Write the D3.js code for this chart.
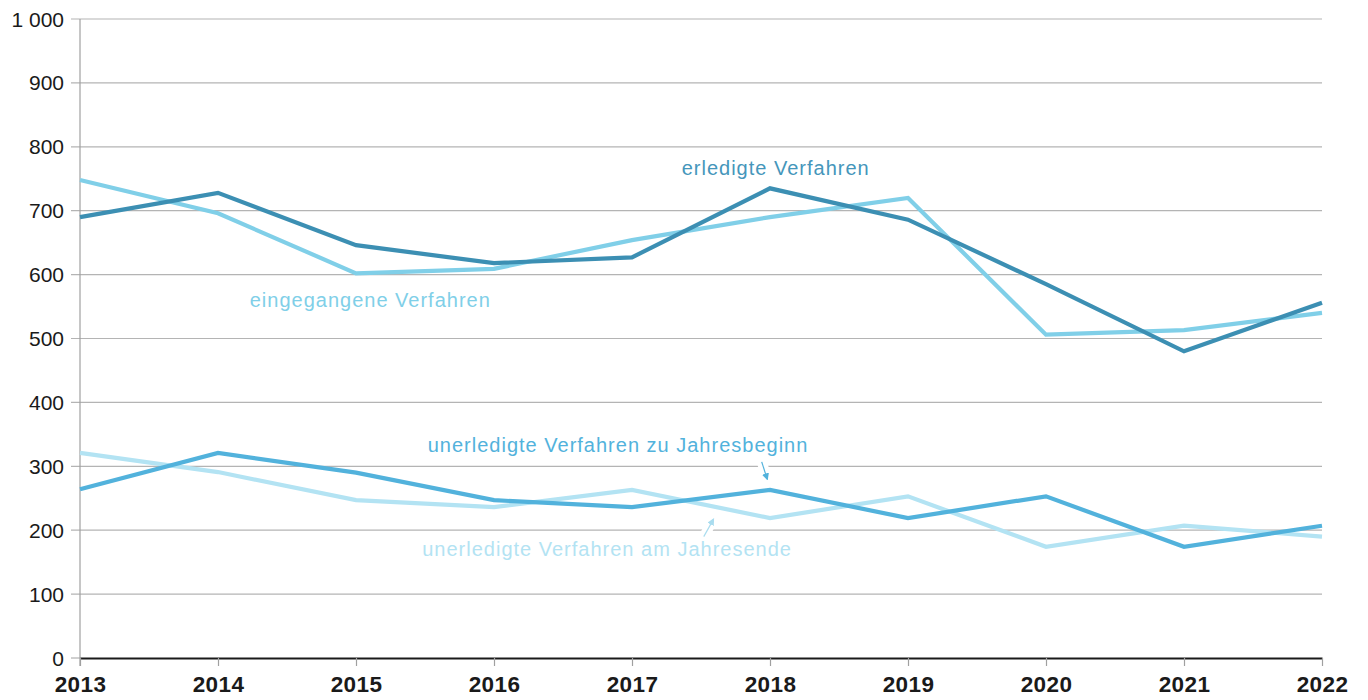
<!DOCTYPE html>
<html>
<head>
<meta charset="utf-8">
<script src="https://cdn.jsdelivr.net/npm/d3@7"></script>
<style>
  body { margin: 0; background: #fff; }
  svg { display: block; font-family: "Liberation Sans", Arial, Helvetica, sans-serif; }
</style>
</head>
<body>
<div id="chart"></div>
<script>
// chart values
const years = [2013, 2014, 2015, 2016, 2017, 2018, 2019, 2020, 2021, 2022]
const erledigt = [690, 728, 646, 618, 627, 735, 686, 585, 480, 556]
const eingegangen = [748, 696, 602, 609, 654, 690, 720, 506, 513, 540]
const offenBeginn = [264, 321, 290, 247, 236, 263, 219, 253, 174, 207]
const offenEnde = [321, 291, 247, 236, 263, 219, 253, 174, 207, 190]
const yTicks = [0, 100, 200, 300, 400, 500, 600, 700, 800, 900, 1000]

const width = 1368
const height = 700
const margin = {top: 19, right: 46, bottom: 42, left: 80}

const svg = d3.select('#chart')
  .append('svg')
    .attr('width', width)
    .attr('height', height)

const x = d3.scaleLinear()
  .domain([2013, 2022])
  .range([margin.left, width - margin.right])

const y = d3.scaleLinear()
  .domain([0, 1000])
  .range([height - margin.bottom, margin.top])

// horizontal grid
svg.append('g')
  .selectAll('line')
  .data(yTicks.filter(d => d > 0))
  .enter()
  .append('line')
    .attr('x1', margin.left - 9)
    .attr('x2', x(2022))
    .attr('y1', d => y(d))
    .attr('y2', d => y(d))
    .attr('stroke', '#b4b4b4')
    .attr('stroke-width', 1.2)

// y axis line + labels
svg.append('line')
  .attr('x1', margin.left).attr('x2', margin.left)
  .attr('y1', y(1000)).attr('y2', y(0) + 8)
  .attr('stroke', '#a0a0a0')
  .attr('stroke-width', 1.2)

svg.append('line')
  .attr('x1', margin.left - 9).attr('x2', margin.left)
  .attr('y1', y(0)).attr('y2', y(0))
  .attr('stroke', '#a0a0a0')

svg.append('g')
  .selectAll('text')
  .data(yTicks)
  .enter()
  .append('text')
    .attr('x', 64)
    .attr('y', d => y(d))
    .attr('dy', '0.36em')
    .attr('text-anchor', 'end')
    .attr('font-size', 21)
    .attr('fill', '#1a1a1a')
    .text(d => d >= 1000 ? '1 000' : d)

// x axis
const xAxis = d3.axisBottom(x)
  .tickValues(years)
  .tickFormat(d3.format('d'))
  .tickSize(8)
  .tickSizeOuter(0)

const gx = svg.append('g')
  .attr('transform', `translate(0,${y(0)})`)
  .call(xAxis)

gx.select('.domain').attr('stroke', '#1a1a1a').attr('stroke-width', 2)
gx.selectAll('.tick line').attr('stroke', '#a0a0a0').attr('stroke-width', 1.2)
gx.selectAll('.tick text')
  .attr('font-size', 22.5)
  .attr('font-weight', 'bold')
  .attr('letter-spacing', 0.4)
  .attr('fill', '#1a1a1a')
  .attr('font-family', '"Liberation Sans", Arial, sans-serif')
  .attr('y', 18)
  .attr('dy', '0.71em')

// series
const series = [
  {name: 'offenEnde', values: offenEnde, color: '#b3e3f3'},
  {name: 'offenBeginn', values: offenBeginn, color: '#52b2dc'},
  {name: 'eingegangen', values: eingegangen, color: '#80cfe8'},
  {name: 'erledigt', values: erledigt, color: '#3c8fb3'}
]

const line = d3.line()
  .x((d, i) => x(years[i]))
  .y(d => y(d))

svg.append('g')
  .selectAll('path')
  .data(series)
  .enter()
  .append('path')
    .attr('d', d => line(d.values))
    .attr('fill', 'none')
    .attr('stroke', d => d.color)
    .attr('stroke-width', 4.2)
    .attr('stroke-linejoin', 'miter')

// arrowheads
const defs = svg.append('defs')
const arrowColors = {beginn: '#52b2dc', ende: '#a9dcef'}
Object.entries(arrowColors).forEach(([k, c]) => {
  defs.append('marker')
    .attr('id', 'arrow-' + k)
    .attr('viewBox', '0 0 10 10')
    .attr('refX', 8).attr('refY', 5)
    .attr('markerWidth', 6).attr('markerHeight', 6)
    .attr('orient', 'auto')
    .append('path')
      .attr('d', 'M0,0 L10,5 L0,10 Z')
      .attr('fill', c)
})

// annotation arrows, in data coords
const arrows = [
  {id: 'beginn', from: [2017.94, 307], to: [2017.98, 280]},
  {id: 'ende', from: [2017.52, 190], to: [2017.59, 217]}
]

arrows.forEach(a => {
  svg.append('line')
    .attr('x1', x(a.from[0])).attr('y1', y(a.from[1]))
    .attr('x2', x(a.to[0])).attr('y2', y(a.to[1]))
    .attr('stroke', '#fff')
    .attr('stroke-width', 10)
  svg.append('line')
    .attr('x1', x(a.from[0])).attr('y1', y(a.from[1]))
    .attr('x2', x(a.to[0])).attr('y2', y(a.to[1]))
    .attr('stroke', arrowColors[a.id])
    .attr('stroke-width', 1.2)
    .attr('marker-end', `url(#arrow-${a.id})`)
})

// series labels
const labels = [
  {text: 'erledigte Verfahren', year: 2017.36, value: 756, color: '#4596bb'},
  {text: 'eingegangene Verfahren', year: 2014.23, value: 550, color: '#80cfe8'},
  {text: 'unerledigte Verfahren zu Jahresbeginn', year: 2015.52, value: 323, color: '#52b2dc'},
  {text: 'unerledigte Verfahren am Jahresende', year: 2015.48, value: 159, color: '#b3e3f3'}
]

svg.append('g')
  .selectAll('text')
  .data(labels)
  .enter()
  .append('text')
    .attr('x', d => x(d.year))
    .attr('y', d => y(d.value))
    .attr('font-size', 20)
    .attr('letter-spacing', 1)
    .attr('fill', d => d.color)
    .text(d => d.text)
</script>
</body>
</html>
